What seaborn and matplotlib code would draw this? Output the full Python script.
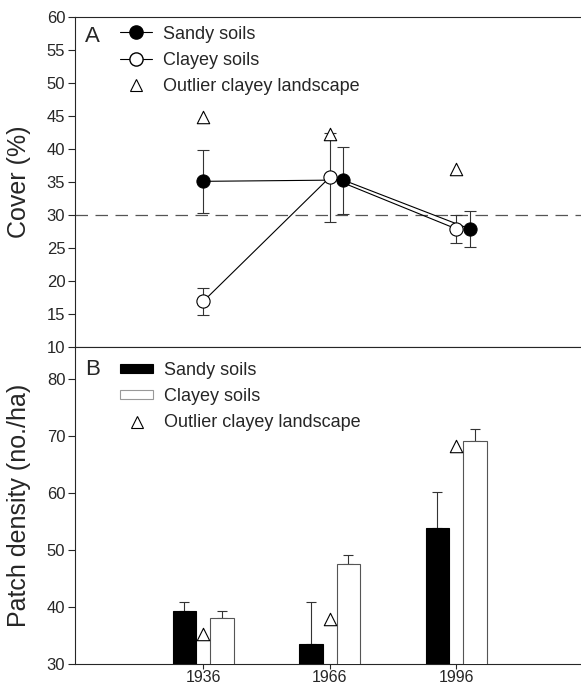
import numpy as np
import pandas as pd
import matplotlib
matplotlib.use("Agg")
import matplotlib.pyplot as plt
from matplotlib.lines import Line2D
from matplotlib.patches import Patch
import seaborn as sns

# ---------------- data ----------------
years = [1936, 1966, 1996]

# Panel A: cover (%)
sandy_cover = [35.1, 35.3, 27.9]
sandy_cover_lo = [30.3, 30.2, 25.2]
sandy_cover_hi = [39.8, 40.3, 30.6]
clayey_cover = [16.9, 35.7, 27.9]
clayey_cover_lo = [14.8, 28.9, 25.8]
clayey_cover_hi = [18.9, 42.5, 30.0]
outlier_cover = [44.8, 42.2, 37.0]
sandy_shift = [0.0, 3.2, 3.2]   # horizontal dodge of sandy symbols (years)

# Panel B: patch density (no./ha)
sandy_density = [39.3, 33.5, 53.8]
sandy_density_hi = [40.8, 40.8, 60.1]
clayey_density = [38.1, 47.5, 69.1]
clayey_density_hi = [39.3, 49.1, 71.2]
outlier_density = [35.3, 37.9, 68.2]

soil_labels = ["Sandy soils", "Clayey soils"]
outlier_label = "Outlier clayey landscape"

# ---------------- style ----------------
sns.set_style("ticks")
plt.rcParams["font.family"] = ["Liberation Sans", "DejaVu Sans"]
plt.rcParams["axes.linewidth"] = 0.8

W, H = 581, 687
fig = plt.figure(figsize=(W / 100, H / 100), dpi=100)
left_px, right_px = 75, 581
top_px, mid_px, bot_px = 17, 347, 664
ax1 = fig.add_axes([left_px / W, 1 - mid_px / H, (right_px - left_px) / W, (mid_px - top_px) / H])
ax2 = fig.add_axes([left_px / W, 1 - bot_px / H, (right_px - left_px) / W, (bot_px - mid_px) / H])

xlim = (1905.6, 2025.6)
tick_fs = 12
label_fs = 18
leg_fs = 13

# ---------------- panel A ----------------
sx = [y + s for y, s in zip(years, sandy_shift)]
ax1.axhline(30, color="#555555", lw=0.9, ls=(0, (10, 6)), zorder=1)

ax1.errorbar(sx, sandy_cover,
             yerr=[np.subtract(sandy_cover, sandy_cover_lo), np.subtract(sandy_cover_hi, sandy_cover)],
             fmt="none", ecolor="#333333", elinewidth=0.8, capsize=4.5, capthick=0.8, zorder=2)
ax1.errorbar(years, clayey_cover,
             yerr=[np.subtract(clayey_cover, clayey_cover_lo), np.subtract(clayey_cover_hi, clayey_cover)],
             fmt="none", ecolor="#333333", elinewidth=0.8, capsize=4.5, capthick=0.8, zorder=2)

sns.lineplot(x=sx, y=sandy_cover, ax=ax1, color="black", lw=0.8, marker="o",
             markersize=9.5, markerfacecolor="black", markeredgecolor="black", zorder=4)
sns.lineplot(x=years, y=clayey_cover, ax=ax1, color="black", lw=0.8, marker="o",
             markersize=9.5, markerfacecolor="white", markeredgecolor="black",
             markeredgewidth=0.8, zorder=5)
sns.scatterplot(x=years, y=outlier_cover, ax=ax1, marker="^", s=80,
                facecolor="white", edgecolor="black", linewidth=0.8, zorder=6)

ax1.set_xlim(*xlim)
ax1.set_ylim(10, 60)
ax1.set_yticks(np.arange(10, 61, 5))
ax1.set_xticks([])
ax1.set_xlabel("")
ax1.set_ylabel("Cover (%)", fontsize=label_fs)
ax1.yaxis.set_label_coords(-0.086, 0.5)
ax1.spines["right"].set_visible(False)
ax1.tick_params(axis="y", direction="out", length=5, width=0.8, pad=2, labelsize=tick_fs)

h_sandy = Line2D([], [], color="black", lw=0.8, marker="o", markersize=9.5,
                 markerfacecolor="black", markeredgecolor="black")
h_clay = Line2D([], [], color="black", lw=0.8, marker="o", markersize=9.5,
                markerfacecolor="white", markeredgecolor="black")
h_out = Line2D([], [], ls="none", marker="^", markersize=9,
               markerfacecolor="white", markeredgecolor="black", markeredgewidth=0.8)
ax1.legend([h_sandy, h_clay, h_out], soil_labels + [outlier_label], loc="upper left",
           bbox_to_anchor=(0.089, 0.974), frameon=False, fontsize=leg_fs, borderpad=0,
           borderaxespad=0, handlelength=1.77, handletextpad=0.6, labelspacing=0.52,
           numpoints=1)
ax1.text(0.02, 0.94, "A", transform=ax1.transAxes, ha="left", va="center", fontsize=16)

# ---------------- panel B ----------------
df = pd.DataFrame({
    "year": years * 2,
    "density": sandy_density + clayey_density,
    "soil": [soil_labels[0]] * 3 + [soil_labels[1]] * 3,
})
err_top = dict(zip(np.round(sandy_density + clayey_density, 3), sandy_density_hi + clayey_density_hi))

sns.barplot(data=df, x="year", y="density", hue="soil", hue_order=soil_labels,
            palette=["black", "white"], native_scale=True, width=0.593, gap=0.375,
            errorbar=None, legend=False, ax=ax2, linewidth=0.8, edgecolor="black",
            zorder=3)

for p in list(ax2.patches):
    fc = p.get_facecolor()
    if fc[0] > 0.5:
        p.set_edgecolor("#555555")
    else:
        p.set_edgecolor("black")
    xc = p.get_x() + p.get_width() / 2
    h = p.get_height()
    hi = err_top.get(round(h, 3))
    if hi is not None:
        ax2.errorbar([xc], [h], yerr=[[0], [hi - h]], fmt="none", ecolor="#333333",
                     elinewidth=0.8, capsize=3.8, capthick=0.8, zorder=2)

sns.scatterplot(x=years, y=outlier_density, ax=ax2, marker="^", s=80,
                facecolor="white", edgecolor="black", linewidth=0.8, zorder=6)

ax2.set_xlim(*xlim)
ax2.set_ylim(30, 85.6)
ax2.set_yticks(np.arange(30, 81, 10))
ax2.set_xticks(years)
ax2.set_xticklabels([str(y) for y in years])
ax2.set_xlabel("")
ax2.set_ylabel("Patch density (no./ha)", fontsize=label_fs)
ax2.yaxis.set_label_coords(-0.086, 0.5)
ax2.spines["right"].set_visible(False)
ax2.tick_params(axis="y", direction="out", length=5, width=0.8, pad=2, labelsize=tick_fs)
ax2.tick_params(axis="x", direction="out", length=3.5, width=0.8, pad=1, labelsize=11.5)

hb_sandy = Patch(facecolor="black", edgecolor="black", lw=0.8)
hb_clay = Patch(facecolor="white", edgecolor="#999999", lw=0.8)
ax2.legend([hb_sandy, hb_clay, h_out], soil_labels + [outlier_label], loc="upper left",
           bbox_to_anchor=(0.089, 0.954), frameon=False, fontsize=leg_fs, borderpad=0,
           borderaxespad=0, handlelength=1.83, handleheight=0.4, handletextpad=0.6,
           labelspacing=0.52, numpoints=1)
ax2.text(0.02, 0.928, "B", transform=ax2.transAxes, ha="left", va="center", fontsize=16)

fig.savefig("out.png", dpi=100)
